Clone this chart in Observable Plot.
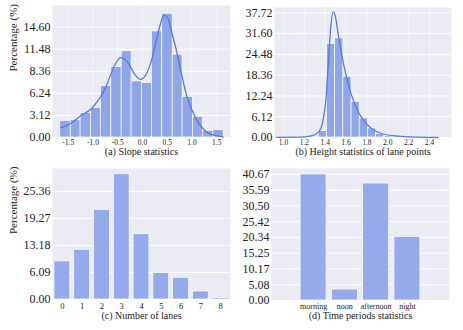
<!DOCTYPE html>
<html><head><meta charset="utf-8">
<script src="https://cdn.jsdelivr.net/npm/d3@7"></script>
<script src="https://cdn.jsdelivr.net/npm/@observablehq/plot@0.6"></script>
<style>
body{margin:0;background:#fff;}
#wrap{position:relative;width:463px;height:330px;overflow:hidden;}
.panel{position:absolute;}
#wrap svg, #wrap svg text, #wrap svg g { font-family: "Liberation Serif", "Times New Roman", serif !important; }
</style></head><body><div id="wrap"></div>
<script>
// ---------- (a) Slope statistics ----------
const slopeBinEdges = [-1.66,-1.45,-1.25,-1.04,-0.84,-0.63,-0.42,-0.22,-0.01,0.19,0.40,0.61,0.81,1.02,1.22,1.43,1.64];
const slopePercent = [2.35,2.44,3.47,4.18,7.28,9.95,12.2,7.93,7.70,15.0,17.5,11.7,5.73,2.91,0.94,1.03];
const slopeKdeX = [-1.657,-1.455,-1.253,-1.051,-0.848,-0.747,-0.646,-0.545,-0.444,-0.343,-0.242,-0.141,-0.040,0.061,0.162,0.263,0.364,0.431,0.498,0.599,0.700,0.801,0.902,1.017,1.118,1.219,1.320,1.421,1.522,1.630];
const slopeKdeY = [1.36,1.97,3.05,3.95,5.73,7.05,8.79,10.43,11.28,11.0,9.96,8.79,8.22,8.79,10.43,13.25,16.07,17.25,17.01,14.66,11.84,8.55,5.73,3.62,2.21,1.27,0.66,0.38,0.23,0.09];
const slopeXTicks = [-1.5,-1.0,-0.5,0,0.5,1.0,1.5];
const slopeXLabels = ["-1.5","-1.0","-0.5","0.0","0.5","1.0","1.5"];
const slopeYTicks = [0,3.12,6.24,9.36,12.48,15.60];
const slopeYLabels = ["0.00","3.12","6.24","8.36","11.48","14.60"];

// ---------- (b) Height statistics of lane points ----------
const heightBinEdges = [1.338,1.417,1.495,1.574,1.653,1.731,1.810,1.889,1.967,2.046];
const heightPercent = [1.87,27.5,29.2,17.9,10.5,5.6,2.65,1.0,0.4];
const heightKdeX = [0.933,1.141,1.268,1.338,1.380,1.406,1.428,1.451,1.476,1.498,1.524,1.556,1.604,1.652,1.716,1.780,1.844,1.940,2.100,2.291,2.483];
const heightKdeY = [0.05,0.1,0.49,1.67,5.1,11.0,20.8,31.6,37.0,35.6,30.6,24.8,17.9,12.5,7.6,4.6,2.65,1.18,0.39,0.1,0.0];
const heightXTicks = [1.0,1.2,1.4,1.6,1.8,2.0,2.2,2.4];
const heightXLabels = ["1.0","1.2","1.4","1.6","1.8","2.0","2.2","2.4"];
const heightYTicks = [0,6.12,12.24,18.36,24.48,30.60,36.72];
const heightYLabels = ["0.00","6.12","12.24","18.36","24.48","31.60","37.72"];

// ---------- (c) Number of lanes ----------
const laneCounts = ["0","1","2","3","4","5","6","7","8"];
const lanePercent = [8.57,11.2,20.2,28.2,14.7,5.94,4.89,1.80,0.30];
const laneYTicks = [0,6.09,12.18,18.27,24.36];
const laneYLabels = ["0.00","6.09","13.18","19.27","25.36"];

// ---------- (d) Time periods statistics ----------
const periods = ["morning","noon","afternoon","night"];
const periodPercent = [40.67,3.54,37.75,20.55];
const periodYTicks = [0,5.08,10.17,15.25,20.34,25.42,30.50,35.59,40.67];
const periodYLabels = ["0.00","5.08","10.17","15.25","20.34","25.42","30.50","35.59","40.67"];

const BG = "#ebebf4";
const BAR = "#8ea5ea";
const BAR2 = "#94aaec";
const LINE = "#5878e0";
const FONT = "Liberation Serif";
const INK = "#222";

const wrap = document.getElementById("wrap");
function place(el, left, top) {
  const d = document.createElement("div");
  d.className = "panel";
  d.style.left = left + "px";
  d.style.top = top + "px";
  d.appendChild(el);
  wrap.appendChild(d);
}
const lab = (ticks, labels) => d => labels[ticks.indexOf(d)];
const ylabel = (dx) => Plot.text(["Percentage (%)"], {text: d => d, frameAnchor: "left", dx, rotate: -90, fontSize: 11, fill: INK, fontFamily: FONT});
const caption = (s, dy) => Plot.text([s], {text: d => d, frameAnchor: "bottom", dy, fontSize: 10, fill: INK, fontFamily: FONT});
const yAxis = (ticks, labels) => Plot.axisY({ticks, tickFormat: lab(ticks, labels), tickSize: 0, tickPadding: 2, fontSize: 12, fontFamily: FONT, fill: INK, label: null});

// (a)
const slopeBins = slopePercent.map((v, i) => ({x1: slopeBinEdges[i], x2: slopeBinEdges[i + 1], v}));
const slopeKde = slopeKdeX.map((x, i) => ({x, y: slopeKdeY[i]}));
place(Plot.plot({
  width: 231, height: 165,
  marginLeft: 52, marginRight: 1, marginTop: 5, marginBottom: 28,
  style: {fontFamily: FONT, color: INK, background: "white"},
  x: {domain: [-1.818, 1.778]},
  y: {domain: [0, 18.66]},
  marks: [
    Plot.frame({fill: BG, stroke: "none"}),
    Plot.gridY(slopeYTicks, {stroke: "white", strokeOpacity: 1, strokeWidth: 1}),
    Plot.gridX(slopeXTicks, {stroke: "white", strokeOpacity: 0.6, strokeWidth: 0.8}),
    Plot.rectY(slopeBins, {x1: "x1", x2: "x2", y: "v", fill: BAR, stroke: "white", strokeWidth: 0.7}),
    Plot.line(slopeKde, {x: "x", y: "y", stroke: LINE, strokeWidth: 1.3, curve: "catmull-rom"}),
    yAxis(slopeYTicks, slopeYLabels),
    Plot.axisX({ticks: slopeXTicks, tickFormat: lab(slopeXTicks, slopeXLabels), tickSize: 0, tickPadding: 2.5, fontSize: 7.5, fontFamily: FONT, fill: INK, label: null}),
    ylabel(-39.3),
    caption("(a) Slope statistics", 17.5)
  ]
}), 0, 0);

// (b)
const heightBins = heightPercent.map((v, i) => ({x1: heightBinEdges[i], x2: heightBinEdges[i + 1], v}));
const heightKde = heightKdeX.map((x, i) => ({x, y: heightKdeY[i]}));
place(Plot.plot({
  width: 232, height: 165,
  marginLeft: 43, marginRight: 12, marginTop: 7, marginBottom: 28,
  style: {fontFamily: FONT, color: INK, background: "white"},
  x: {domain: [0.914, 2.611]},
  y: {domain: [0, 38.3]},
  marks: [
    Plot.frame({fill: BG, stroke: "none"}),
    Plot.gridY(heightYTicks, {stroke: "white", strokeOpacity: 1, strokeWidth: 1}),
    Plot.gridX(heightXTicks, {stroke: "white", strokeOpacity: 0.6, strokeWidth: 0.8}),
    Plot.rectY(heightBins, {x1: "x1", x2: "x2", y: "v", fill: BAR, stroke: "white", strokeWidth: 0.7}),
    Plot.line(heightKde, {x: "x", y: "y", stroke: LINE, strokeWidth: 1.3, curve: "monotone-x"}),
    yAxis(heightYTicks, heightYLabels),
    Plot.axisX({ticks: heightXTicks, tickFormat: lab(heightXTicks, heightXLabels), tickSize: 0, tickPadding: 2.5, fontSize: 7.5, fontFamily: FONT, fill: INK, label: null}),
    caption("(b) Height statistics of lane points", 17.5)
  ]
}), 231, 0);

// (c)
const lanes = laneCounts.map((k, i) => ({k, v: lanePercent[i]}));
place(Plot.plot({
  width: 231, height: 165,
  marginLeft: 52, marginRight: 1, marginTop: 3, marginBottom: 31,
  style: {fontFamily: FONT, color: INK, background: "white"},
  x: {type: "band", domain: laneCounts, paddingInner: 0.2, paddingOuter: 0.1, round: false},
  y: {domain: [0, 29.5]},
  marks: [
    Plot.frame({fill: BG, stroke: "none"}),
    Plot.gridY(laneYTicks, {stroke: "white", strokeOpacity: 1, strokeWidth: 1}),
    Plot.barY(lanes, {x: "k", y: "v", fill: BAR2, stroke: "white", strokeWidth: 0.7}),
    yAxis(laneYTicks, laneYLabels),
    Plot.axisX({tickSize: 0, tickPadding: 3.5, fontSize: 8.5, fontFamily: FONT, fill: INK, label: null}),
    ylabel(-39.3),
    caption("(c) Number of lanes", 19)
  ]
}), 0, 165);

// (d)
const periodData = periods.map((p, i) => ({p, v: periodPercent[i]}));
place(Plot.plot({
  width: 232, height: 165,
  marginLeft: 40, marginRight: 14, marginTop: 3, marginBottom: 30,
  style: {fontFamily: FONT, color: INK, background: "white"},
  x: {type: "band", domain: periods, paddingInner: 0.17, paddingOuter: 0.93, round: false},
  y: {domain: [0, 42.6]},
  marks: [
    Plot.frame({fill: BG, stroke: "none"}),
    Plot.gridY(periodYTicks, {stroke: "white", strokeOpacity: 1, strokeWidth: 1}),
    Plot.barY(periodData, {x: "p", y: "v", fill: BAR2, stroke: "white", strokeWidth: 0.7}),
    yAxis(periodYTicks, periodYLabels),
    Plot.axisX({tickSize: 0, tickPadding: 2.5, fontSize: 8, fontFamily: FONT, fill: INK, label: null}),
    caption("(d) Time periods statistics", 18)
  ]
}), 231, 165);
</script></body></html>
